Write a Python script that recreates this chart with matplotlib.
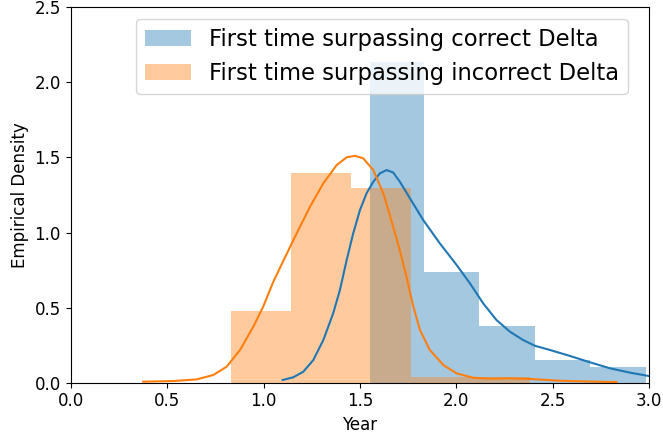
import numpy as np
import matplotlib.pyplot as plt

# histogram bins (density)
correct_edges = [1.553, 1.833, 2.118, 2.407, 2.692, 2.981]
correct_heights = [2.138, 0.739, 0.377, 0.151, 0.102]
incorrect_edges = [0.831, 1.141, 1.452, 1.762, 2.072, 2.383]
incorrect_heights = [0.475, 1.397, 1.297, 0.036, 0.036]

# kde curves
correct_kde_x = [1.099, 1.154, 1.206, 1.258, 1.310, 1.361, 1.396, 1.431, 1.465, 1.500,
                 1.534, 1.569, 1.603, 1.638, 1.672, 1.707, 1.759, 1.828, 1.914, 2.001,
                 2.070, 2.139, 2.208, 2.277, 2.346, 2.407, 2.485, 2.589, 2.692, 2.796,
                 2.900, 3.000]
correct_kde_y = [0.018, 0.036, 0.073, 0.151, 0.284, 0.462, 0.617, 0.817, 0.995, 1.150,
                 1.261, 1.338, 1.394, 1.416, 1.400, 1.338, 1.228, 1.083, 0.928, 0.784,
                 0.662, 0.528, 0.417, 0.340, 0.284, 0.246, 0.218, 0.178, 0.136, 0.096,
                 0.067, 0.044]
incorrect_kde_x = [0.376, 0.532, 0.653, 0.739, 0.809, 0.878, 0.947, 0.998, 1.050, 1.102,
                   1.172, 1.241, 1.310, 1.379, 1.431, 1.474, 1.517, 1.569, 1.621, 1.672,
                   1.707, 1.742, 1.776, 1.811, 1.862, 1.932, 2.001, 2.087, 2.174, 2.277,
                   2.380, 2.537, 2.709, 2.830]
incorrect_kde_y = [0.007, 0.011, 0.022, 0.051, 0.107, 0.218, 0.373, 0.506, 0.670, 0.810,
                   0.995, 1.172, 1.328, 1.449, 1.501, 1.511, 1.494, 1.416, 1.261, 1.039,
                   0.880, 0.700, 0.510, 0.351, 0.218, 0.118, 0.062, 0.033, 0.027, 0.029,
                   0.025, 0.013, 0.007, 0.004]

labels = ['First time surpassing correct Delta', 'First time surpassing incorrect Delta']

fig = plt.figure(figsize=(6.63, 4.34), dpi=100)
ax = fig.add_axes([0.1066, 0.1182, 0.8727, 0.865])

ax.hist(correct_edges[:-1], bins=correct_edges, weights=correct_heights,
        color='#1f77b4', alpha=0.4, label=labels[0])
ax.plot(correct_kde_x, correct_kde_y, color='#1f77b4', lw=1.5)
ax.hist(incorrect_edges[:-1], bins=incorrect_edges, weights=incorrect_heights,
        color='#ff7f0e', alpha=0.4, label=labels[1])
ax.plot(incorrect_kde_x, incorrect_kde_y, color='#ff7f0e', lw=1.5)

ax.set_xlim(0, 3)
ax.set_ylim(0, 2.5)
ax.set_xticks(np.arange(0, 3.01, 0.5))
ax.set_yticks(np.arange(0, 2.51, 0.5))
ax.tick_params(labelsize=12)
ax.set_xlabel('Year', fontsize=12)
ax.set_ylabel('Empirical Density', fontsize=12)

ax.legend(loc='upper right', bbox_to_anchor=(0.963, 0.969), borderaxespad=0,
          fontsize=16.3)

fig.savefig('out.png', dpi=100)
